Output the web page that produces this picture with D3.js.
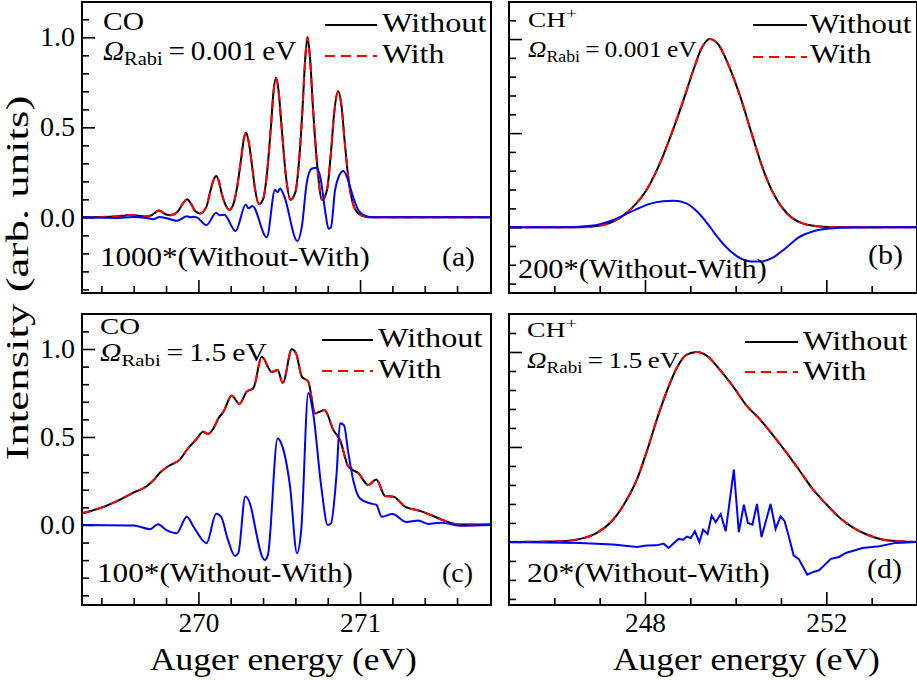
<!DOCTYPE html>
<html><head><meta charset="utf-8">
<script src="https://cdn.jsdelivr.net/npm/d3@7"></script>
<style>body{margin:0;background:#fff}</style>
</head><body>
<svg id="chart" width="917" height="680" xmlns="http://www.w3.org/2000/svg"></svg>
<script>
// ---------------- DATA ----------------
// Panel (a): CO, Omega_Rabi = 0.001 eV   [energy eV, intensity]
const coWithoutA = [[269.28,0],[269.40,0.002],[269.50,0.006],[269.55,0.011],[269.58,0.013],[269.62,0.010],[269.67,0.005],[269.71,0.012],[269.735,0.028],[269.755,0.038],[269.775,0.030],[269.80,0.016],[269.83,0.012],[269.87,0.030],[269.905,0.078],[269.93,0.100],[269.955,0.075],[269.98,0.035],[270.01,0.022],[270.05,0.060],[270.075,0.150],[270.095,0.210],[270.11,0.230],[270.125,0.205],[270.145,0.130],[270.17,0.065],[270.19,0.042],[270.215,0.070],[270.24,0.170],[270.265,0.330],[270.28,0.430],[270.295,0.470],[270.31,0.425],[270.33,0.300],[270.35,0.160],[270.375,0.074],[270.40,0.100],[270.425,0.250],[270.45,0.520],[270.465,0.700],[270.48,0.775],[270.495,0.710],[270.515,0.500],[270.54,0.240],[270.57,0.098],[270.60,0.140],[270.625,0.340],[270.645,0.620],[270.66,0.870],[270.675,1.000],[270.69,0.890],[270.71,0.590],[270.735,0.290],[270.765,0.096],[270.795,0.150],[270.82,0.360],[270.84,0.580],[270.865,0.700],[270.885,0.620],[270.905,0.420],[270.93,0.200],[270.96,0.065],[270.99,0.022],[271.03,0.005],[271.08,0],[271.81,0]];
const coWithA = coWithoutA;   // indistinguishable from "Without" at this scale
const coDiffA = [[269.28,0],[269.50,-0.003],[269.60,0.002],[269.68,-0.004],[269.72,-0.010],[269.76,0.002],[269.80,-0.004],[269.866,-0.019],[269.93,0.006],[269.95,0.001],[269.97,0.004],[269.99,0.000],[270.05,-0.043],[270.11,0.026],[270.13,0.012],[270.16,0.014],[270.23,-0.076],[270.293,0.072],[270.31,0.050],[270.334,0.063],[270.423,-0.111],[270.474,0.152],[270.49,0.140],[270.505,0.161],[270.53,0.120],[270.612,-0.131],[270.64,-0.050],[270.67,0.190],[270.70,0.270],[270.73,0.275],[270.755,0.220],[270.785,0.030],[270.805,-0.063],[270.82,-0.055],[270.845,0.150],[270.87,0.230],[270.897,0.258],[270.925,0.210],[270.955,0.120],[270.99,0.040],[271.03,0.010],[271.08,0],[271.81,0]];

// Panel (b): CH+, Omega_Rabi = 0.001 eV
const chWithoutB = [[245,0],[246.6,0],[246.97,0.007],[247.30,0.030],[247.67,0.092],[248.04,0.200],[248.33,0.340],[248.59,0.500],[248.85,0.677],[249.07,0.837],[249.25,0.952],[249.43,1.000],[249.62,0.970],[249.84,0.863],[250.10,0.695],[250.35,0.500],[250.61,0.305],[250.83,0.180],[251.13,0.074],[251.42,0.025],[251.79,0.005],[252.2,0],[254,0]];
const chWithB = chWithoutB;
const chDiffB = [[245,0],[246.3,0],[246.8,0.007],[247.3,0.039],[247.7,0.083],[248.1,0.124],[248.4,0.138],[248.63,0.140],[248.9,0.128],[249.15,0.083],[249.4,0.012],[249.6,-0.053],[249.85,-0.120],[250.1,-0.165],[250.35,-0.183],[250.55,-0.183],[250.8,-0.165],[251.1,-0.112],[251.4,-0.053],[251.7,-0.023],[252.1,-0.007],[252.5,-0.002],[254,0]];

// Panel (c): CO, Omega_Rabi = 1.5 eV
const coWithoutC = [[269.28,0.066],[269.39,0.095],[269.476,0.127],[269.598,0.184],[269.68,0.220],[269.73,0.262],[269.763,0.298],[269.80,0.325],[269.825,0.340],[269.887,0.373],[269.928,0.426],[269.99,0.490],[270.03,0.530],[270.06,0.517],[270.093,0.549],[270.124,0.606],[270.155,0.644],[270.206,0.735],[270.254,0.688],[270.299,0.758],[270.34,0.777],[270.392,0.956],[270.454,0.870],[270.49,0.880],[270.522,0.808],[270.578,0.998],[270.604,0.975],[270.64,0.843],[270.68,0.814],[270.722,0.634],[270.78,0.653],[270.835,0.540],[270.876,0.483],[270.928,0.331],[270.99,0.294],[271.051,0.227],[271.10,0.259],[271.155,0.165],[271.206,0.161],[271.278,0.104],[271.371,0.080],[271.453,0.051],[271.536,0.019],[271.618,0.002],[271.70,0.002],[271.81,0.004]];
const coWithC = coWithoutC;
const coDiffC = [[269.28,0],[269.60,-0.003],[269.70,-0.024],[269.75,0.004],[269.80,-0.028],[269.866,-0.047],[269.928,0.047],[269.97,-0.010],[270.05,-0.104],[270.11,0.064],[270.14,0.047],[270.18,-0.076],[270.226,-0.176],[270.247,-0.160],[270.29,0.161],[270.33,0.085],[270.34,0.038],[270.41,-0.199],[270.43,-0.170],[270.49,0.492],[270.52,0.445],[270.567,0.218],[270.61,-0.161],[270.636,-0.028],[270.68,0.750],[270.71,0.634],[270.76,0.218],[270.80,0.000],[270.82,0.009],[270.855,0.294],[270.876,0.578],[270.90,0.568],[270.928,0.407],[270.96,0.246],[271.00,0.150],[271.06,0.123],[271.10,0.115],[271.134,0.047],[271.20,0.062],[271.286,0.017],[271.36,0.025],[271.42,0.006],[271.50,0.013],[271.63,-0.004],[271.81,0]];

// Panel (d): CH+, Omega_Rabi = 1.5 eV
const chWithoutD = [[245,0],[246.2,0.004],[246.57,0.016],[246.93,0.047],[247.30,0.118],[247.60,0.223],[247.82,0.328],[248.04,0.477],[248.26,0.644],[248.48,0.793],[248.70,0.916],[248.92,0.986],[249.14,1.000],[249.36,0.981],[249.65,0.907],[249.95,0.816],[250.24,0.718],[250.54,0.644],[250.83,0.560],[251.13,0.468],[251.42,0.372],[251.71,0.275],[252.01,0.196],[252.30,0.126],[252.60,0.074],[252.89,0.039],[253.26,0.012],[253.63,0.004],[254,0]];
const chWithD = chWithoutD;
const chDiffD = [[245,0],[246.57,-0.005],[247.3,-0.014],[247.82,-0.026],[248.04,-0.019],[248.26,-0.018],[248.41,-0.009],[248.52,-0.032],[248.74,0.016],[248.85,0.012],[248.92,0.028],[249.01,0.021],[249.10,0.056],[249.20,-0.002],[249.28,0.065],[249.38,0.042],[249.47,0.139],[249.56,0.104],[249.67,0.147],[249.78,0.056],[249.96,0.381],[250.07,0.051],[250.18,0.196],[250.27,0.100],[250.37,0.091],[250.47,0.200],[250.57,0.026],[250.77,0.200],[250.88,0.068],[250.99,0.135],[251.08,0.109],[251.17,0.030],[251.28,-0.072],[251.39,-0.089],[251.58,-0.172],[251.69,-0.160],[251.84,-0.149],[252.10,-0.089],[252.28,-0.079],[252.43,-0.058],[252.80,-0.032],[253.17,-0.023],[253.53,-0.005],[254,0]];

// Tick values / labels
const yMajorTicks = [0, 0.5, 1.0];
const yMajorLabels = ["0.0", "0.5", "1.0"];
const yMinorTicks = [-0.4,-0.3,-0.2,-0.1,0.1,0.2,0.3,0.4,0.6,0.7,0.8,0.9,1.1];
const coMajorTicks = [270, 271];
const coMajorLabels = ["270", "271"];
const coMinorTicks = [269.4,269.6,269.8,270.2,270.4,270.6,270.8,271.2,271.4,271.6];
const chMajorTicks = [248, 252];
const chMajorLabels = ["248", "252"];
const chMinorTicks = [246,247,249,250,251,253];

// ---------------- DRAWING ----------------
const FONT = '"Liberation Serif","Tinos","Times New Roman",serif';
const svg = d3.select("#chart");

function fitText(parent, x, y, w, size, build, center, rotate) {
  const g = parent.append("g");
  const t = g.append("text").style("font-family", FONT).attr("font-size", size).attr("fill", "#000");
  build(t);
  const bb = t.node().getBBox();
  const s = w / bb.width;
  const shift = center ? -(bb.x + bb.width / 2) : -bb.x;
  g.attr("transform", `translate(${x},${y})${rotate ? ` rotate(${rotate})` : ""} scale(${s},1) translate(${shift},0)`);
  return g;
}

const panels = [
  {key:"a", xr:[82,491], yr:[2,293], xd:[269.28,271.81], yd:[-0.42,1.196], without:coWithoutA, with:coWithA, diff:coDiffA, co:true, left:true, bottom:false,
   mol:{txt:"CO", x:103, y:30, w:41, size:26}, om:{val:"0.001", x:103, y:60, w:194, size:27},
   leg:{x1:325, x2:377, y1:25, y2:56, tx:382, b1:32, b2:63, w1:105, w2:63},
   ann:{txt:"1000*(Without-With)", x:100, y:266, w:270}, lab:{txt:"(a)", x:442, y:266, w:33}, curve:d3.curveMonotoneX},
  {key:"b", xr:[509,917], yr:[2,293], xd:[245,254], yd:[-0.35,1.197], without:chWithoutB, with:chWithB, diff:chDiffB, co:false, left:false, bottom:false,
   mol:{txt:"CH", sup:true, x:528, y:27, w:49, size:20}, om:{val:"0.001", x:528, y:57, w:169, size:23},
   leg:{x1:753, x2:807, y1:25, y2:57, tx:810, b1:33, b2:63, w1:102, w2:62},
   ann:{txt:"200*(Without-With)", x:518, y:278, w:249}, lab:{txt:"(b)", x:868, y:264, w:35}, curve:d3.curveMonotoneX},
  {key:"c", xr:[82,491], yr:[314,605], xd:[269.28,271.81], yd:[-0.455,1.199], without:coWithoutC, with:coWithC, diff:coDiffC, co:true, left:true, bottom:true,
   mol:{txt:"CO", x:100, y:334, w:40, size:24}, om:{val:"1.5", x:100, y:361, w:167, size:25},
   leg:{x1:322, x2:373, y1:340, y2:371, tx:378, b1:347, b2:378, w1:105, w2:64},
   ann:{txt:"100*(Without-With)", x:97, y:582, w:256}, lab:{txt:"(c)", x:442, y:582, w:31}, curve:d3.curveMonotoneX},
  {key:"d", xr:[509,917], yr:[314,605], xd:[245,254], yd:[-0.332,1.2], without:chWithoutD, with:chWithD, diff:chDiffD, co:false, left:false, bottom:true,
   mol:{txt:"CH", sup:true, x:527, y:337, w:50, size:20}, om:{val:"1.5", x:527, y:368, w:153, size:23},
   leg:{x1:745, x2:798, y1:342, y2:372, tx:803, b1:350, b2:380, w1:105, w2:64},
   ann:{txt:"20*(Without-With)", x:527, y:582, w:243}, lab:{txt:"(d)", x:867, y:578, w:35}, curve:d3.curveLinear}
];

panels.forEach(p => {
  const x = d3.scaleLinear().domain(p.xd).range(p.xr);
  const y = d3.scaleLinear().domain(p.yd).range([p.yr[1], p.yr[0]]);
  const g = svg.append("g");
  const clipId = "clip-" + p.key;
  svg.append("clipPath").attr("id", clipId).append("rect")
    .attr("x", p.xr[0]).attr("y", p.yr[0]).attr("width", p.xr[1]-p.xr[0]).attr("height", p.yr[1]-p.yr[0]);

  // axes (inward ticks)
  const inY = v => v > p.yd[0] + 1e-6 && v < p.yd[1] - 1e-6;
  const minorY = d3.axisLeft(y).tickValues(yMinorTicks.filter(inY)).tickSizeInner(-7).tickSizeOuter(0).tickFormat("");
  const majorY = d3.axisLeft(y).tickValues(yMajorTicks).tickSizeInner(-13).tickSizeOuter(0).tickPadding(7)
      .tickFormat((d,i) => p.left ? yMajorLabels[i] : "");
  const xMaj = p.co ? coMajorTicks : chMajorTicks, xMajL = p.co ? coMajorLabels : chMajorLabels, xMin = p.co ? coMinorTicks : chMinorTicks;
  const minorX = d3.axisBottom(x).tickValues(xMin).tickSizeInner(-7).tickSizeOuter(0).tickFormat("");
  const majorX = d3.axisBottom(x).tickValues(xMaj).tickSizeInner(-13).tickSizeOuter(0).tickPadding(8)
      .tickFormat((d,i) => p.bottom ? xMajL[i] : "");
  [minorY, majorY].forEach(ax => {
    const a = g.append("g").attr("transform", `translate(${p.xr[0]},0)`).call(ax);
    a.attr("font-family", null);
    a.select(".domain").remove();
    a.selectAll("line").attr("stroke", "#000").attr("stroke-width", 1.6);
    a.selectAll("text").style("font-family", FONT).attr("font-size", 27).attr("fill", "#000")
      .attr("textLength", 35).attr("lengthAdjust", "spacingAndGlyphs");
  });
  [minorX, majorX].forEach(ax => {
    const a = g.append("g").attr("transform", `translate(0,${p.yr[1]})`).call(ax);
    a.attr("font-family", null);
    a.select(".domain").remove();
    a.selectAll("line").attr("stroke", "#000").attr("stroke-width", 1.6);
    a.selectAll("text").style("font-family", FONT).attr("font-size", 27).attr("fill", "#000")
      .attr("textLength", 41).attr("lengthAdjust", "spacingAndGlyphs");
  });

  // curves
  const line = d3.line().x(d => x(d[0])).y(d => y(d[1])).curve(d3.curveMonotoneX);
  const lineDiff = d3.line().x(d => x(d[0])).y(d => y(d[1])).curve(p.curve);
  const cg = g.append("g").attr("clip-path", `url(#${clipId})`);
  cg.append("path").datum(p.without).attr("d", line).attr("fill", "none").attr("stroke", "#000").attr("stroke-width", 2);
  cg.append("path").datum(p.with).attr("d", line).attr("fill", "none").attr("stroke", "#ff0000").attr("stroke-width", 2).attr("stroke-dasharray", "9,6");
  cg.append("path").datum(p.diff).attr("d", lineDiff).attr("fill", "none").attr("stroke", "#0000ff").attr("stroke-width", 2);

  // frame
  g.append("rect").attr("x", p.xr[0]).attr("y", p.yr[0]).attr("width", p.xr[1]-p.xr[0]).attr("height", p.yr[1]-p.yr[0])
    .attr("fill", "none").attr("stroke", "#000").attr("stroke-width", 2);

  // molecule label
  fitText(g, p.mol.x, p.mol.y, p.mol.w, p.mol.size, t => {
    t.append("tspan").text(p.mol.txt);
    if (p.mol.sup) t.append("tspan").attr("font-size", p.mol.size*0.72).attr("dy", -p.mol.size*0.45).text("+");
  });
  // Omega line
  fitText(g, p.om.x, p.om.y, p.om.w, p.om.size, t => {
    t.append("tspan").attr("font-style", "italic").text("Ω");
    t.append("tspan").attr("font-size", p.om.size*0.7).attr("dy", p.om.size*0.2).text("Rabi");
    t.append("tspan").attr("dy", -p.om.size*0.2).text("\u2009=\u2009" + p.om.val + "\u2009eV");
  });
  // legend
  g.append("line").attr("x1", p.leg.x1).attr("x2", p.leg.x2).attr("y1", p.leg.y1).attr("y2", p.leg.y1).attr("stroke", "#000").attr("stroke-width", 2);
  g.append("line").attr("x1", p.leg.x1).attr("x2", p.leg.x2).attr("y1", p.leg.y2).attr("y2", p.leg.y2).attr("stroke", "#ff0000").attr("stroke-width", 2).attr("stroke-dasharray", "10,6");
  fitText(g, p.leg.tx, p.leg.b1, p.leg.w1, 27, t => t.text("Without"));
  fitText(g, p.leg.tx, p.leg.b2, p.leg.w2, 27, t => t.text("With"));
  // annotation + panel label
  fitText(g, p.ann.x, p.ann.y, p.ann.w, 27, t => t.text(p.ann.txt));
  fitText(g, p.lab.x, p.lab.y, p.lab.w, 27, t => t.text(p.lab.txt));
});

// axis titles
fitText(svg, 150, 670, 267, 31, t => t.text("Auger energy (eV)"));
fitText(svg, 613, 670, 267, 31, t => t.text("Auger energy (eV)"));
fitText(svg, 28, 278, 365, 31, t => t.text("Intensity (arb. units)"), true, -90);
</script>
</body></html>
